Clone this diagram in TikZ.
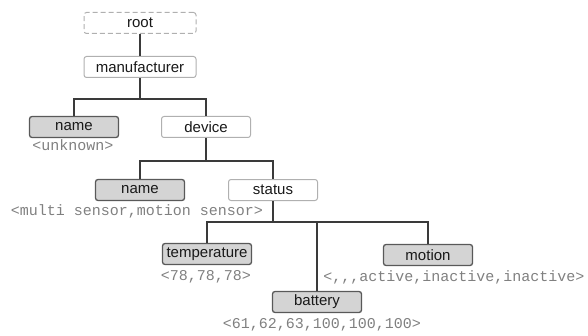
\documentclass[tikz,border=0pt]{standalone}
\usepackage{fontspec}
\setmainfont{Liberation Sans}
\setmonofont{Liberation Mono}
\usepackage{tikz}
\usetikzlibrary{positioning, calc}
\definecolor{treeLine}{HTML}{3A3A3A}
\definecolor{treeGray}{HTML}{D4D4D4}
\definecolor{treeEdge}{HTML}{B0B0B0}
\definecolor{treeVal}{HTML}{808080}
\newcommand{\valtext}[1]{\textcolor{treeVal}{\texttt{#1}}}

\begin{document}
\begin{tikzpicture}[
  x=1pt, y=1pt,
  every node/.style={font=\fontsize{15}{17}\selectfont, text=black!90},
  key/.style={rounded corners=2.5pt, minimum width=89pt, minimum height=21pt,
    inner xsep=1pt, inner ysep=0pt},
  plain/.style={key, fill=white, draw=treeEdge, line width=1pt},
  leaf/.style={key, fill=treeGray, draw=black!65, line width=1.3pt},
  top/.style={key, minimum width=112pt, fill=white, draw=treeEdge, line width=1pt},
  val/.style={inner sep=0pt, font=\fontsize{15}{17}\selectfont},
  link/.style={treeLine, line width=1.4pt}
]
  \useasboundingbox (0,0) rectangle (588,335);

  % upper levels
  \node[top, draw=treeEdge, dashed, dash pattern=on 5pt off 3pt] (root) at (140,312) {root};
  \node[top] (manuf) at (140,268) {manufacturer};
  \node[leaf] (mname) at (74,208) {name};
  \node[plain] (device) at (206,208) {device};
  \node[val] (unknown) at (73,190) {\valtext{<unknown>}};

  % device level
  \node[leaf] (dname) at (140,145) {name};
  \node[plain] (status) at (273,145) {status};
  \node[val] (sensors) at (137,124) {\valtext{<multi sensor,motion sensor>}};

  % status level
  \node[leaf] (temp) at (207,81) {temperature};
  \node[leaf] (motion) at (428,80) {motion};
  \node[leaf] (battery) at (317,33) {battery};
  \node[val] (tempval) at (206,58) {\valtext{<78,78,78>}};
  \node[val] (motionval) at (454,58) {\valtext{<,,,active,inactive,inactive>}};
  \node[val] (battval) at (322,10) {\valtext{<61,62,63,100,100,100>}};

  % connectors
  \draw[link] (root) -- (manuf);
  \draw[link] (manuf.south) -- ++(0,-21) coordinate (j1);
  \draw[link] (j1) -| (mname.north);
  \draw[link] (j1) -| (device.north);
  \draw[link] (device.south) -- ++(0,-23) coordinate (j2);
  \draw[link] (j2) -| (dname.north);
  \draw[link] (j2) -| (status.north);
  \draw[link] (status.south) -- ++(0,-21) coordinate (j3);
  \draw[link] (j3) -| (temp.north);
  \draw[link] (j3) -| (motion.north);
  \draw[link] (j3) -| (battery.north);
\end{tikzpicture}
\end{document}
